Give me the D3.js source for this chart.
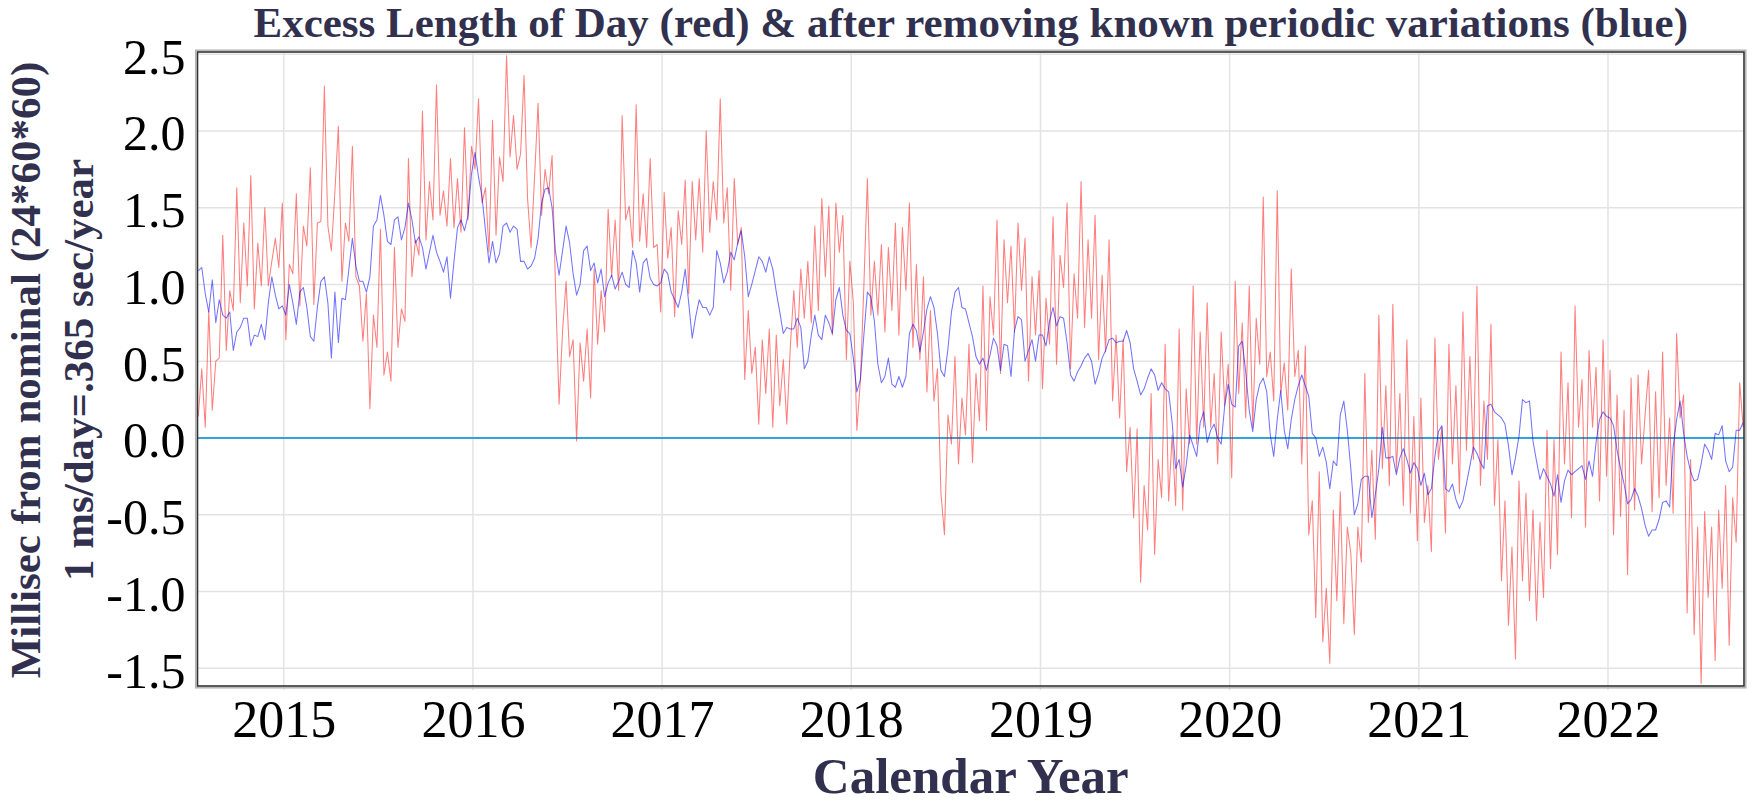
<!DOCTYPE html>
<html><head><meta charset="utf-8">
<script src="https://cdn.jsdelivr.net/npm/d3@7"></script>
<style>
html,body{margin:0;padding:0;background:#fff;}
svg{display:block;}
</style></head>
<body>
<svg id="chart" width="1760" height="806"></svg>
<script>
// ---------------- data ----------------
const titleText = "Excess Length of Day (red) & after removing known periodic variations (blue)";
const xAxisTitle = "Calendar Year";
const yAxisTitleLines = ["Millisec from nominal (24*60*60)", "1 ms/day=.365 sec/year"];
const yearTicks = [2015, 2016, 2017, 2018, 2019, 2020, 2021, 2022];
const valueTicks = [-1.5, -1.0, -0.5, 0.0, 0.5, 1.0, 1.5, 2.0, 2.5];
const xDomain = [2014.544, 2022.719];
const yDomain = [-1.616, 2.514];

// both series sampled every 1/54 year from sampleStart (decimal year)
const sampleStart = 2014.548;
const sampleStep = 1 / 54;

// Excess LOD (ms)
const redValues = [
0.14,0.45,0.07,0.83,0.18,0.50,0.52,1.32,0.57,0.96,
0.83,1.63,0.88,1.40,0.99,1.71,0.84,1.27,0.99,1.50,
0.99,1.15,1.30,1.11,1.53,0.64,1.13,1.07,1.59,0.86,
1.38,1.25,1.76,0.87,1.40,1.41,2.29,1.38,1.22,1.60,
2.03,1.02,1.40,1.28,1.90,1.05,0.99,0.63,0.94,0.19,
0.80,0.59,1.36,0.41,0.56,0.37,
1.24,0.59,0.84,0.76,1.82,1.05,1.29,1.19,2.13,1.29,
1.67,1.42,2.30,1.45,1.61,1.38,1.82,1.37,1.69,1.34,
2.02,1.42,1.90,1.75,2.21,1.53,1.63,1.21,2.07,1.32,
1.83,1.67,2.49,1.83,2.10,1.75,1.85,2.36,1.56,1.24,
1.70,2.18,1.45,1.75,1.59,1.84,0.96,0.22,0.70,1.02,
0.53,0.64,-0.02,0.62,0.37,
0.71,0.26,1.10,0.61,0.96,0.69,1.49,1.05,1.42,0.96,
2.10,1.42,1.51,1.24,2.17,1.28,1.59,1.24,1.82,1.24,
1.26,0.82,1.60,1.17,1.37,0.79,1.48,1.26,1.68,0.94,
1.67,1.29,1.69,1.21,2.00,1.34,1.67,1.42,2.21,1.40,
1.63,0.96,1.69,1.26,1.37,0.38,0.83,0.42,0.59,0.09,
0.64,0.29,0.71,0.07,0.67,
0.21,0.51,0.09,0.59,0.96,0.59,1.10,0.78,1.15,0.75,
1.38,0.83,1.56,1.05,1.51,0.67,1.53,1.21,1.45,0.51,
1.15,0.88,0.05,0.37,0.99,1.69,0.80,1.15,0.80,1.26,
0.69,1.24,0.83,1.40,0.67,1.37,0.96,1.53,0.59,1.13,
0.51,1.05,0.30,0.83,0.24,0.45,-0.36,-0.63,0.15,-0.04,
0.53,-0.17,0.26,0.02,0.61,
-0.16,0.42,0.11,0.99,0.05,0.92,0.67,1.42,0.42,1.29,
0.88,1.25,0.69,1.40,0.96,1.30,0.37,1.05,0.67,1.09,
0.32,0.91,0.61,1.44,0.48,1.19,0.98,1.53,0.45,1.07,
0.78,1.67,0.72,1.29,0.78,1.45,0.51,1.06,0.56,1.29,
0.24,0.67,0.13,0.64,-0.22,0.07,-0.52,0.06,-0.94,-0.31,
-0.60,0.29,-0.76,-0.14,
-0.39,0.61,-0.41,0.02,-0.44,0.71,-0.47,0.32,-0.04,0.99,
-0.04,0.69,0.07,0.88,0.07,0.42,-0.17,0.69,0.21,0.48,
-0.26,1.02,0.29,0.75,0.13,0.99,0.07,0.78,0.48,1.57,
0.40,0.56,0.24,1.61,0.29,0.49,0.18,1.10,0.40,0.57,
-0.17,0.60,-0.63,-0.41,-1.17,-0.22,-1.33,-0.98,-1.47,-0.47,
-1.06,-0.35,-1.21,-0.58,-0.75,
-1.28,-0.58,-0.81,0.42,-0.55,-0.08,-0.66,0.80,-0.20,0.34,
-0.31,0.87,-0.22,0.29,-0.44,0.64,-0.49,0.14,-0.67,0.26,
-0.55,-0.31,-0.74,0.65,-0.14,0.07,-0.62,0.61,-0.17,0.34,
-0.36,0.82,-0.08,0.53,-0.14,0.99,-0.31,0.24,-0.14,0.74,
-0.44,-0.01,-0.93,-0.41,-1.22,-0.71,-1.44,-0.28,-0.93,-0.36,
-1.06,-0.47,-1.19,-0.55,-1.04,
0.05,-0.85,-0.01,-0.76,0.56,-0.17,0.36,-0.52,0.86,0.07,
0.38,-0.58,0.57,0.07,0.46,-0.41,0.64,-0.25,0.44,-0.63,
0.28,-0.51,0.18,-0.89,0.39,-0.47,0.41,-0.17,0.15,0.44,
-0.48,0.30,-0.39,0.56,-0.31,0.13,-0.49,0.68,0.13,0.28,
-1.14,-0.14,-1.28,-0.58,-1.60,-0.48,-1.04,-0.58,-1.45,-0.47,
-0.98,-0.31,-1.35,-0.39,-0.68,0.36,0.07
];

// LOD after removing known periodic variations (ms)
const blueValues = [
1.09,1.11,0.94,0.82,1.03,0.75,0.90,0.80,0.78,0.82,
0.57,0.69,0.72,0.78,0.78,0.60,0.67,0.66,0.74,0.64,
0.88,1.05,0.93,0.84,0.86,0.80,1.00,0.88,0.74,0.95,
0.98,0.85,0.66,0.63,0.85,1.02,1.05,0.88,0.52,0.95,
0.62,0.91,0.90,1.10,1.30,1.12,1.02,1.02,0.95,1.05,
1.38,1.42,1.58,1.45,1.28,1.26,
1.42,1.44,1.29,1.37,1.53,1.42,1.27,1.31,1.24,1.10,
1.21,1.32,1.21,1.15,1.08,1.18,0.91,1.15,1.37,1.42,
1.35,1.45,1.72,1.86,1.70,1.57,1.35,1.14,1.28,1.14,
1.20,1.38,1.40,1.34,1.38,1.36,1.15,1.15,1.10,1.12,
1.17,1.30,1.53,1.62,1.63,1.50,1.21,1.06,1.22,1.38,
1.27,1.07,0.93,1.00,1.22,
1.25,1.09,1.14,1.01,1.10,0.92,1.01,1.06,0.97,1.02,
1.08,1.00,0.98,1.22,1.14,0.95,1.14,1.17,1.04,1.00,
0.99,1.01,1.10,1.07,0.95,0.90,0.85,0.95,1.10,0.88,
0.65,0.79,0.90,0.85,0.85,0.80,0.85,1.22,1.14,1.01,
1.08,1.21,1.16,1.27,1.35,1.18,0.92,1.00,1.09,1.18,
1.15,1.08,1.18,1.10,0.95,
0.82,0.68,0.72,0.71,0.71,0.78,0.72,0.45,0.50,0.67,
0.80,0.67,0.64,0.80,0.75,0.68,0.90,0.98,0.80,0.70,
0.68,0.52,0.30,0.38,0.67,0.95,0.92,0.76,0.48,0.36,
0.40,0.52,0.35,0.33,0.40,0.33,0.40,0.68,0.74,0.70,
0.56,0.69,0.84,0.92,0.85,0.68,0.44,0.40,0.58,0.82,
0.95,0.98,0.85,0.84,0.75,
0.66,0.53,0.48,0.52,0.44,0.54,0.65,0.60,0.44,0.61,
0.60,0.40,0.70,0.79,0.77,0.50,0.57,0.64,0.50,0.67,
0.67,0.60,0.76,0.85,0.73,0.79,0.78,0.62,0.41,0.37,
0.43,0.47,0.52,0.55,0.50,0.35,0.42,0.52,0.57,0.64,
0.65,0.62,0.63,0.63,0.70,0.62,0.45,0.37,0.28,0.32,
0.39,0.45,0.41,0.31,0.36,
0.32,0.30,0.10,-0.20,-0.14,-0.32,-0.18,0.02,-0.05,-0.12,
0.10,0.17,-0.03,0.05,0.09,0.00,-0.04,0.21,0.35,0.22,
0.20,0.60,0.63,0.43,0.18,0.04,0.25,0.35,0.39,0.30,
0.02,-0.12,0.12,0.31,0.05,-0.07,0.12,0.25,0.34,0.41,
0.34,0.27,0.03,0.00,-0.12,-0.06,-0.16,-0.33,-0.15,-0.18,
0.15,0.24,0.05,-0.20,
-0.50,-0.43,-0.27,-0.25,-0.25,-0.52,-0.37,-0.20,0.07,-0.13,
-0.13,-0.12,-0.24,-0.13,-0.07,-0.14,-0.23,-0.16,-0.20,-0.31,
-0.23,-0.37,-0.33,-0.12,0.04,0.08,-0.33,-0.35,-0.30,-0.40,
-0.46,-0.41,-0.30,-0.18,-0.06,-0.10,-0.16,-0.20,0.21,0.22,
0.17,0.15,0.13,0.09,-0.05,-0.24,-0.13,0.01,0.25,0.23,
0.24,-0.02,-0.15,-0.27,-0.20,
-0.25,-0.30,-0.38,-0.24,-0.42,-0.28,-0.21,-0.24,-0.22,-0.20,
-0.18,-0.27,-0.15,-0.25,-0.03,0.12,0.17,0.14,0.13,0.08,
-0.08,-0.20,-0.30,-0.43,-0.40,-0.33,-0.38,-0.46,-0.57,-0.64,
-0.60,-0.60,-0.53,-0.42,-0.41,-0.45,-0.06,0.12,0.24,0.03,
-0.12,-0.22,-0.28,-0.27,-0.17,-0.04,-0.08,-0.14,0.03,0.02,
0.08,-0.15,-0.22,-0.19,0.05,0.05,0.10
];

// ---------------- layout ----------------
const W = 1760, H = 806;
const plot = {left: 197.5, right: 1744, top: 52, bottom: 686};
const serif = "'Liberation Serif','Times New Roman',Times,serif";
const navy = "#31314f";

const svg = d3.select("#chart");
svg.append("rect").attr("width", W).attr("height", H).attr("fill", "#fff");

const x = d3.scaleLinear().domain(xDomain).range([plot.left, plot.right]);
const y = d3.scaleLinear().domain(yDomain).range([plot.bottom, plot.top]);

svg.append("defs").append("clipPath").attr("id", "clip")
  .append("rect").attr("x", plot.left).attr("y", plot.top)
  .attr("width", plot.right - plot.left).attr("height", plot.bottom - plot.top);

// gridlines
const grid = svg.append("g").attr("stroke", "#e3e3e3").attr("stroke-width", 1.5);
grid.selectAll("line.h").data(valueTicks).join("line")
  .attr("x1", plot.left).attr("x2", plot.right)
  .attr("y1", d => y(d)).attr("y2", d => y(d));
grid.selectAll("line.v").data(yearTicks).join("line")
  .attr("x1", d => x(d)).attr("x2", d => x(d))
  .attr("y1", plot.top).attr("y2", plot.bottom + 4);

// zero line
svg.append("line")
  .attr("x1", plot.left).attr("x2", plot.right)
  .attr("y1", y(0)).attr("y2", y(0))
  .attr("stroke", "#33a3d8").attr("stroke-width", 2);

const dataG = svg.append("g").attr("clip-path", "url(#clip)");
const line = d3.line().x((d, i) => x(sampleStart + i * sampleStep)).y(d => y(d));

dataG.append("path").datum(redValues).attr("d", line)
  .attr("fill", "none").attr("stroke", "#ff0000").attr("stroke-opacity", 0.5)
  .attr("stroke-width", 1.05).attr("stroke-linejoin", "round");
dataG.append("path").datum(blueValues).attr("d", line)
  .attr("fill", "none").attr("stroke", "#0000ff").attr("stroke-opacity", 0.55)
  .attr("stroke-width", 1.05).attr("stroke-linejoin", "round");

// frame
svg.append("rect")
  .attr("x", plot.left - 1.8).attr("y", plot.top - 1.8)
  .attr("width", plot.right - plot.left + 3.6).attr("height", plot.bottom - plot.top + 3.6)
  .attr("fill", "none").attr("stroke", "#b5b5b5").attr("stroke-width", 1.5);
svg.append("rect")
  .attr("x", plot.left).attr("y", plot.top)
  .attr("width", plot.right - plot.left).attr("height", plot.bottom - plot.top)
  .attr("fill", "none").attr("stroke", "#333").attr("stroke-width", 1.6);

// axes
const fmtY = v => d3.format(".1f")(v).replace("\u2212", "-");
const yAxis = svg.append("g").attr("transform", `translate(${plot.left},0)`)
  .call(d3.axisLeft(y).tickValues(valueTicks).tickFormat(fmtY).tickSize(0).tickPadding(12));
yAxis.select(".domain").remove();
yAxis.selectAll("text").attr("font-family", serif).attr("font-size", 50)
  .attr("fill", "#000").attr("dy", "0.38em");

const xAxis = svg.append("g").attr("transform", `translate(0,${plot.bottom})`)
  .call(d3.axisBottom(x).tickValues(yearTicks).tickFormat(d3.format("d")).tickSize(0).tickPadding(14));
xAxis.select(".domain").remove();
xAxis.selectAll("text").attr("font-family", serif).attr("font-size", 52)
  .attr("fill", "#000");

// titles
const cx = (plot.left + plot.right) / 2;
svg.append("text").attr("x", cx).attr("y", 37).attr("text-anchor", "middle")
  .attr("font-family", serif).attr("font-weight", "bold").attr("font-size", 43)
  .attr("fill", navy).text(titleText);

svg.append("text").attr("x", cx).attr("y", 793).attr("text-anchor", "middle")
  .attr("font-family", serif).attr("font-weight", "bold").attr("font-size", 51)
  .attr("fill", navy).text(xAxisTitle);

const cy = 370;
const yTitleX = [40, 93];
yAxisTitleLines.forEach((t, i) => {
  svg.append("text")
    .attr("transform", `translate(${yTitleX[i]},${cy}) rotate(-90)`)
    .attr("text-anchor", "middle")
    .attr("font-family", serif).attr("font-weight", "bold").attr("font-size", 43)
    .attr("fill", navy).text(t);
});
</script>
</body></html>
